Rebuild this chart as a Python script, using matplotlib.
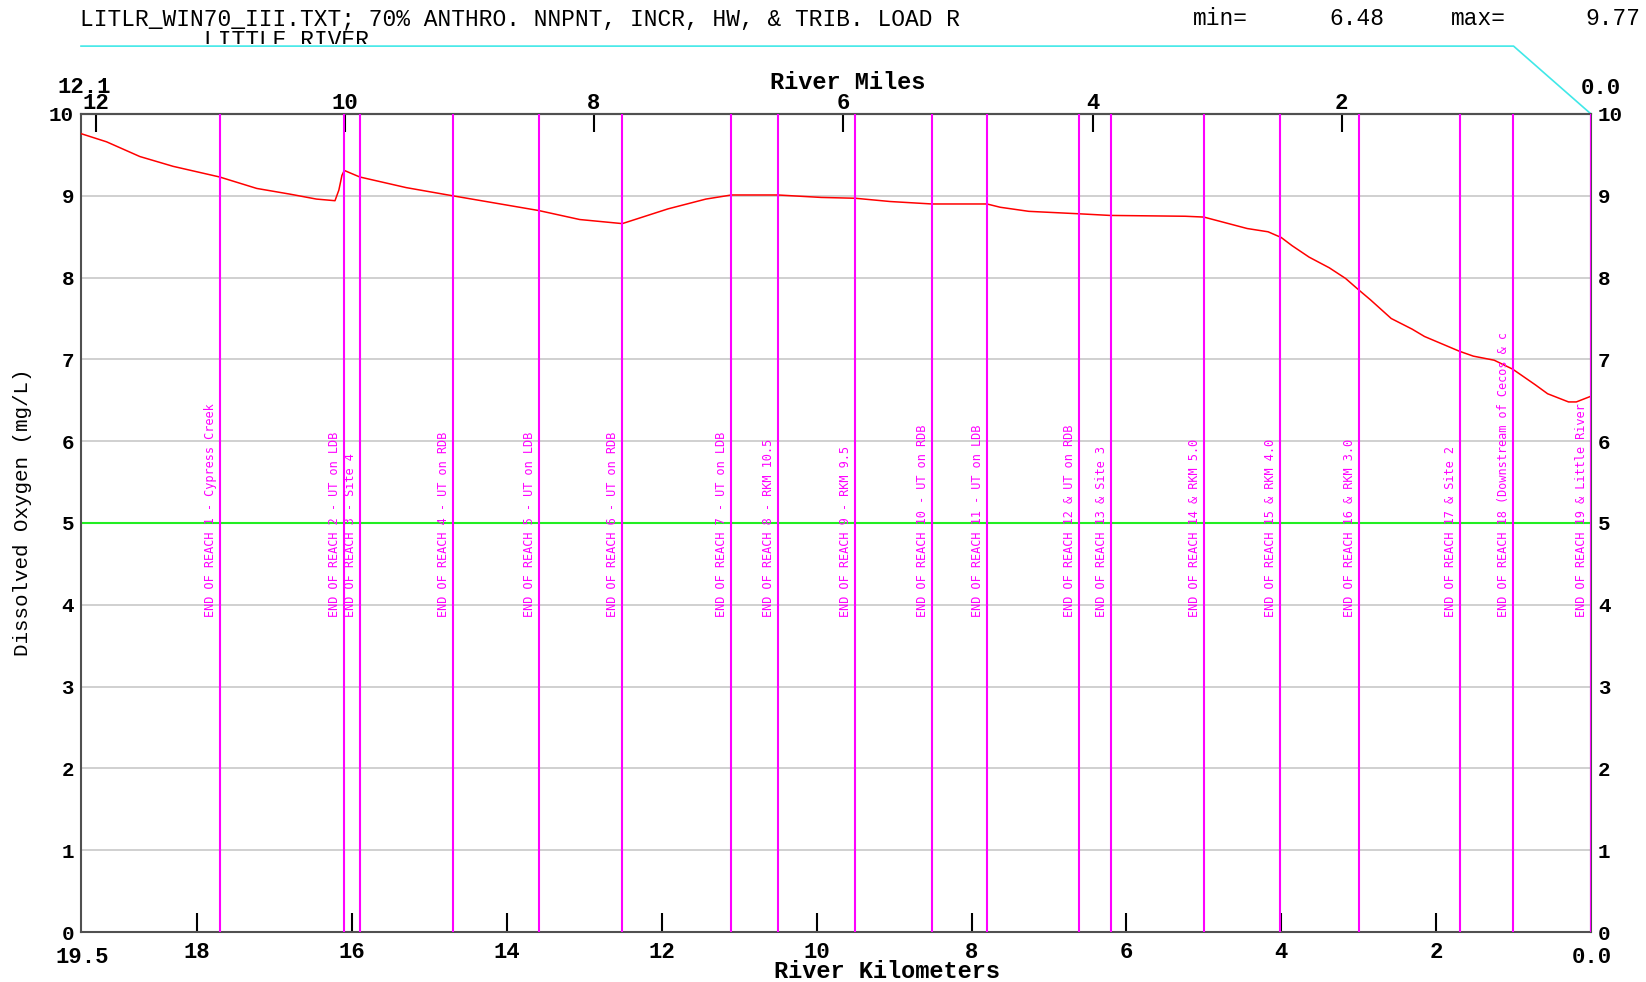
import matplotlib
matplotlib.use("Agg")
import matplotlib.pyplot as plt
from matplotlib.transforms import Bbox, blended_transform_factory, offset_copy

# dissolved oxygen profile along the river
km = [19.50, 19.17, 18.74, 18.31, 17.71, 17.23, 16.80, 16.46, 16.22, 16.17,
      16.13, 16.10, 15.90, 15.30, 14.70, 13.59, 13.06, 12.51, 11.92, 11.43,
      11.10, 10.50, 9.94, 9.50, 9.05, 8.51, 7.80, 7.63, 7.26, 6.61,
      6.21, 5.24, 5.00, 4.44, 4.17, 4.00, 3.86, 3.64, 3.38, 3.17,
      3.00, 2.85, 2.58, 2.31, 2.15, 1.70, 1.52, 1.25, 1.01, 0.72,
      0.56, 0.29, 0.19, 0.00]
do = [9.76, 9.66, 9.48, 9.36, 9.23, 9.09, 9.02, 8.96, 8.94, 9.07,
      9.25, 9.31, 9.23, 9.10, 9.00, 8.82, 8.71, 8.66, 8.84, 8.96,
      9.01, 9.01, 8.98, 8.97, 8.93, 8.90, 8.90, 8.86, 8.81, 8.78,
      8.76, 8.75, 8.74, 8.60, 8.56, 8.49, 8.39, 8.25, 8.12, 7.99,
      7.85, 7.73, 7.50, 7.37, 7.28, 7.10, 7.04, 6.99, 6.88, 6.69,
      6.58, 6.48, 6.48, 6.55]

reach_km = [17.71, 16.11, 15.90, 14.70, 13.59, 12.51, 11.10, 10.50, 9.50, 8.51,
            7.80, 6.61, 6.20, 5.00, 4.01, 2.99, 1.69, 1.01, 0.00]
reach_labels = [
    "END OF REACH 1 - Cypress Creek",
    "END OF REACH 2 - UT on LDB",
    "END OF REACH 3 - Site 4",
    "END OF REACH 4 - UT on RDB",
    "END OF REACH 5 - UT on LDB",
    "END OF REACH 6 - UT on RDB",
    "END OF REACH 7 - UT on LDB",
    "END OF REACH 8 - RKM 10.5",
    "END OF REACH 9 - RKM 9.5",
    "END OF REACH 10 - UT on RDB",
    "END OF REACH 11 - UT on LDB",
    "END OF REACH 12 & UT on RDB",
    "END OF REACH 13 & Site 3",
    "END OF REACH 14 & RKM 5.0",
    "END OF REACH 15 & RKM 4.0",
    "END OF REACH 16 & RKM 3.0",
    "END OF REACH 17 & Site 2",
    "END OF REACH 18 (Downstream of Cecos & c",
    "END OF REACH 19 & Little River",
]

km_ticks = [18, 16, 14, 12, 10, 8, 6, 4, 2]
mile_ticks = [12, 10, 8, 6, 4, 2]
do_ticks = list(range(0, 11))
do_standard = 5.0
do_min, do_max = 6.48, 9.77

title = "LITLR_WIN70_III.TXT; 70% ANTHRO. NNPNT, INCR, HW, & TRIB. LOAD R"
subtitle = "LITTLE RIVER"

# cyan bar above the plot: x in km, y in axes fraction
cyan_km = [19.5, 1.0, 0.0]
cyan_y = [1.083, 1.083, 1.0]

KM_PER_MILE = 1.609344
W, H = 1646, 982

plt.rcParams['font.family'] = ['Liberation Mono', 'DejaVu Sans Mono']
plt.rcParams['font.weight'] = 'bold'

fig = plt.figure(figsize=(W / 100, H / 100), dpi=100)
ax = fig.add_axes([81 / W, 50 / H, 1510 / W, 818 / H])
ax.set_xlim(19.5, 0)
ax.set_ylim(0, 10)

ax.plot(km, do, color='red', lw=1.1, zorder=3)
ax.axhline(do_standard, color='#22ee22', lw=1.5, zorder=2)
for x in reach_km:
    ax.axvline(x, color='#ff00ff', lw=1.5, zorder=4)

label_tr = offset_copy(ax.transData, fig=fig, x=-3, y=0, units='dots')
for x, s in zip(reach_km, reach_labels):
    ax.text(x, 3.85, s, transform=label_tr, rotation=90, ha='right', va='bottom',
            color='#ff00ff', family='DejaVu Sans Mono', fontweight='normal',
            fontsize=8.6, zorder=5, clip_on=False)

# y axis, labels both sides
ax.set_yticks(do_ticks)
ax.tick_params(axis='y', length=0, pad=5, labelsize=15, labelright=True)
ax.yaxis.grid(True, color='#c8c8c8', lw=1.2)
ax.set_axisbelow(True)
ax.set_ylabel('Dissolved Oxygen (mg/L)', fontsize=15, va='center')
ax.yaxis.set_label_coords(-0.039, 0.513)

# bottom: kilometres
ax.set_xticks(km_ticks)
ax.tick_params(axis='x', direction='in', length=14, width=1.5, color='black',
               pad=7, labelsize=16)

# top: miles
sec = ax.secondary_xaxis('top', functions=(lambda k: k / KM_PER_MILE,
                                           lambda m: m * KM_PER_MILE))
sec.set_xticks(mile_ticks)
sec.tick_params(direction='in', length=13, width=1.5, color='black',
                pad=0, labelsize=16)

for sp in ax.spines.values():
    sp.set_color('#505050')
    sp.set_linewidth(1.5)
sec.spines['top'].set_color('#505050')
sec.spines['top'].set_linewidth(1.5)

ax.text(0.508, 1.039, 'River Miles', transform=ax.transAxes, ha='center', va='center', fontsize=17)
ax.text(0.0023, 1.033, '12.1', transform=ax.transAxes, ha='center', va='center', fontsize=16)
ax.text(1.0066, 1.031, '0.0', transform=ax.transAxes, ha='center', va='center', fontsize=16)
ax.text(0.534, -0.0485, 'River Kilometers', transform=ax.transAxes, ha='center', va='center', fontsize=17)
ax.text(0.0007, -0.0306, '19.5', transform=ax.transAxes, ha='center', va='center', fontsize=16)
ax.text(1.0007, -0.0306, '0.0', transform=ax.transAxes, ha='center', va='center', fontsize=16)

tr = blended_transform_factory(ax.transData, ax.transAxes)
ax.plot(cyan_km, cyan_y, transform=tr, color='#40e8e8', lw=1.2, clip_on=False)

# header
fig.text(80 / W, 1 - 26 / H, title, fontsize=16.5, fontweight='normal', va='baseline')
sub = fig.text(204 / W, 1 - 47 / H, subtitle, fontsize=16.5, fontweight='normal', va='baseline')
sub.set_clip_box(Bbox.from_extents(0, H - 44, W, H))
fig.text(1193 / W, 1 - 25 / H, 'min=', fontsize=16.5, fontweight='normal', va='baseline')
fig.text(1384 / W, 1 - 25 / H, f'{do_min:.2f}', fontsize=16.5, fontweight='normal',
         va='baseline', ha='right')
fig.text(1451 / W, 1 - 25 / H, 'max=', fontsize=16.5, fontweight='normal', va='baseline')
fig.text(1640 / W, 1 - 25 / H, f'{do_max:.2f}', fontsize=16.5, fontweight='normal',
         va='baseline', ha='right')

fig.savefig('out.png', dpi=100)
